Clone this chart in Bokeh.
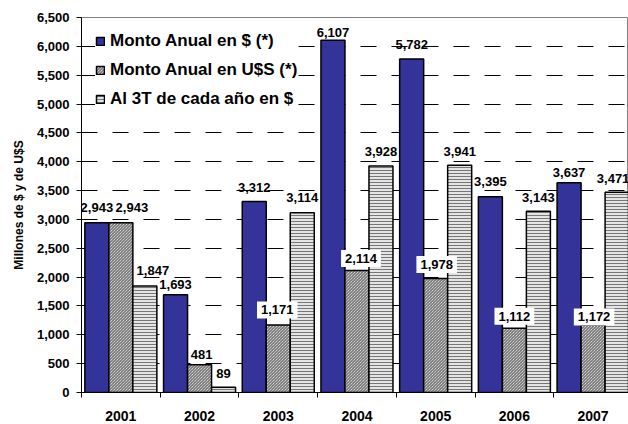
from bokeh.plotting import figure
from bokeh.models import (ColumnDataSource, FixedTicker, NumeralTickFormatter,
                          Legend, LegendItem)
from bokeh.transform import dodge
from bokeh.core.properties import value
from bokeh.embed import file_html
from bokeh.resources import INLINE

# ---------------- data ----------------
years = ["2001", "2002", "2003", "2004", "2005", "2006", "2007"]
monto_pesos = [2943, 1693, 3312, 6107, 5782, 3395, 3637]
monto_usd = [2943, 481, 1171, 2114, 1978, 1112, 1172]
al_3t_pesos = [1847, 89, 3114, 3928, 3941, 3143, 3471]
series_names = ["Monto Anual en $ (*)", "Monto Anual en U$S (*)", "Al 3T de cada año en $"]
y_ticks = [0, 500, 1000, 1500, 2000, 2500, 3000, 3500, 4000, 4500, 5000, 5500, 6000, 6500]
y_axis_title = "Millones de $ y de U$S"

# ---------------- layout / style ----------------
FONT = "Liberation Sans"
BLUE = "#333399"
BW = 0.305  # bar width in category units
# label nudges in screen px (dx right, dy above bar top)
lab_dx = [[0, 0, 0, 0, 0, 0, 0],
          [11, 2, -1, 4, 1, 0, 1],
          [8, 0, 0, 0, 0, 0, -4]]
lab_dy = [[15, 10, 14, 8, 14, 15, 10],
          [15, 10, 15, 12, 14, 12, 8],
          [15, 14, 15, 14, 14, 14, 14]]
boxed = [[False] * 7,
         [False, False, True, True, True, True, True],
         [False] * 7]

xc = [i + 0.5 for i in range(len(years))]
offsets = [-BW, 0.0, BW]

p = figure(width=628, height=424, x_range=(0, 6.95), y_range=(0, 6500),
           output_backend="svg", toolbar_location=None, title=None,
           min_border_left=81, min_border_right=0, min_border_top=17,
           min_border_bottom=32)
p.background_fill_color = "white"
p.border_fill_color = "white"
p.outline_line_color = "#808080"
p.outline_line_width = 1

src = ColumnDataSource(dict(xc=xc, pesos=monto_pesos, usd=monto_usd, q3=al_3t_pesos))

r1 = p.vbar(x=dodge("xc", offsets[0], range=p.x_range), top="pesos", width=BW,
            source=src, fill_color=BLUE, line_color="black", line_width=1.5)
r2 = p.vbar(x=dodge("xc", offsets[1], range=p.x_range), top="usd", width=BW,
            source=src, fill_color="white", hatch_pattern="\\", hatch_color="#555555",
            hatch_scale=3, hatch_weight=1, line_color="black", line_width=1.5)
r3 = p.vbar(x=dodge("xc", offsets[2], range=p.x_range), top="q3", width=BW,
            source=src, fill_color="#e4e4e4", hatch_pattern="-", hatch_color="#777777",
            hatch_scale=3, hatch_weight=1, line_color="black", line_width=1.5)

# ---------------- data labels ----------------
plain = dict(x=[], y=[], t=[], dx=[], dy=[])
boxd = dict(x=[], y=[], t=[], dx=[], dy=[])
for s, vals in enumerate([monto_pesos, monto_usd, al_3t_pesos]):
    for i, v in enumerate(vals):
        d = boxd if boxed[s][i] else plain
        d["x"].append(xc[i] + offsets[s])
        d["y"].append(v)
        d["t"].append(f"{v:,}")
        d["dx"].append(lab_dx[s][i])
        d["dy"].append(-lab_dy[s][i])

p.text(x="x", y="y", text="t", x_offset="dx", y_offset="dy",
       source=ColumnDataSource(plain), text_font=value(FONT), text_font_style="bold",
       text_font_size="13px", text_align="center", text_baseline="middle",
       text_color="black")
p.text(x="x", y="y", text="t", x_offset="dx", y_offset="dy",
       source=ColumnDataSource(boxd), text_font=value(FONT), text_font_style="bold",
       text_font_size="13px", text_align="center", text_baseline="middle",
       text_color="black", background_fill_color="white", padding=4)

# ---------------- axes / grid ----------------
p.xgrid.visible = False
p.ygrid.ticker = FixedTicker(ticks=y_ticks[1:-1])
p.ygrid.grid_line_color = "black"
p.ygrid.grid_line_dash = "16 15"
p.ygrid.grid_line_width = 1

p.yaxis.ticker = FixedTicker(ticks=y_ticks)
p.yaxis.formatter = NumeralTickFormatter(format="0,0")
p.yaxis.major_label_text_font = FONT
p.yaxis.major_label_text_font_style = "bold"
p.yaxis.major_label_text_font_size = "13px"
p.yaxis.major_label_text_color = "black"
p.yaxis.major_tick_out = 5
p.yaxis.major_tick_in = 0
p.yaxis.minor_tick_out = 0
p.yaxis.minor_tick_in = 0
p.yaxis.major_label_standoff = 7
p.yaxis.axis_label = y_axis_title
p.yaxis.axis_label_text_font = FONT
p.yaxis.axis_label_text_font_style = "bold"
p.yaxis.axis_label_text_font_size = "12px"
p.yaxis.axis_label_text_color = "black"
p.yaxis.axis_label_standoff = 8
p.yaxis.axis_line_color = "black"
p.yaxis.major_tick_line_color = "black"

p.xaxis.ticker = FixedTicker(ticks=xc, minor_ticks=list(range(len(years) + 1)))
p.xaxis.major_label_overrides = {x: y for x, y in zip(xc, years)}
p.xaxis.major_label_text_font = FONT
p.xaxis.major_label_text_font_style = "bold"
p.xaxis.major_label_text_font_size = "14px"
p.xaxis.major_label_text_color = "black"
p.xaxis.major_tick_out = 0
p.xaxis.major_tick_in = 0
p.xaxis.minor_tick_out = 5
p.xaxis.minor_tick_in = 0
p.xaxis.minor_tick_line_color = "black"
p.xaxis.major_label_standoff = 13
p.xaxis.axis_line_color = "black"

# ---------------- legend ----------------
legend = Legend(items=[LegendItem(label=series_names[0], renderers=[r1]),
                       LegendItem(label=series_names[1], renderers=[r2]),
                       LegendItem(label=series_names[2], renderers=[r3])],
                location="top_left")
legend.background_fill_color = "white"
legend.background_fill_alpha = 1.0
legend.border_line_color = None
legend.label_text_font = FONT
legend.label_text_font_style = "bold"
legend.label_text_font_size = "17px"
legend.label_text_color = "black"
legend.glyph_width = 10
legend.glyph_height = 10
legend.label_standoff = 5
legend.label_height = 20
legend.spacing = 9
legend.margin = 14
legend.padding = 10
p.add_layout(legend)

open("out.html", "w").write(file_html(p, INLINE))
